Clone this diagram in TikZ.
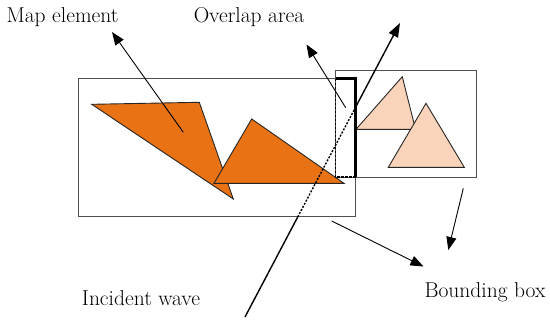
\documentclass[tikz,border=0pt]{standalone}
\usepackage{xcolor}
\usepackage{tikz}
\usetikzlibrary{arrows.meta}

\definecolor{elemorange}{RGB}{232,114,20}
\definecolor{elempeach}{RGB}{250,212,186}
\definecolor{boxgray}{RGB}{80,80,80}

\begin{document}
\begin{tikzpicture}[x=1pt, y=-1pt,
    every node/.style={font=\fontsize{21.5}{24}\selectfont, inner sep=0pt},
    bbox/.style={draw=boxgray, line width=0.9pt},
    elem/.style={draw=black!85, line width=0.9pt, line join=miter},
    pointer/.style={line width=0.9pt, -{Triangle[length=13pt, width=10pt]}}]
      \useasboundingbox (0,0) rectangle (550,327);
      % labels
      \node (lblmap) at (62.5,17) {Map element};
      \node (lbloverlap) at (249,17) {Overlap area};
      \node (lblwave) at (141,298) {Incident wave};
      \node (lblbbox) at (485,292) {Bounding box};
      % bounding boxes
      \draw[bbox] (78.5,78.5) rectangle (355.5,216.5);
      \draw[bbox] (335,70) rectangle (476,177);
      % map elements (left)
      \draw[elem, fill=elemorange] (91.7,104.3) -- (199.3,102.3) -- (233.3,199) -- cycle;
      \draw[elem, fill=elemorange] (251.7,119) -- (214,183.3) -- (344,183.3) -- cycle;
      % map elements (right)
      \draw[elem, fill=elempeach] (402.3,76.7) -- (356,129.3) -- (415.5,129.3) -- cycle;
      \draw[elem, fill=elempeach] (426,103.3) -- (388.3,167.3) -- (464.3,167.3) -- cycle;
      % overlap area
      \draw[line width=1.6pt, dash pattern=on 2.5pt off 1.5pt] (335.5,78.5) -- (335.5,177) -- (355.5,177);
      \draw[line width=2.2pt] (335.5,78.5) -- (355.5,78.5) -- (355.5,177);
      % incident wave
      \coordinate (wavestart) at (245,317);
      \coordinate (wavein) at (297.7,217);
      \coordinate (waveout) at (356,106.4);
      \coordinate (wavetip) at (400,23);
      \draw[line width=1.4pt] (wavestart) -- (wavein);
      \draw[line width=1.4pt, dash pattern=on 2pt off 1.5pt] (wavein) -- (waveout);
      \draw[line width=1.4pt, -{Triangle[length=14pt, width=10pt]}] (waveout) -- (wavetip);
      % pointers
      \coordinate (maptail) at (183.3,132.3);
      \coordinate (maptip) at (112,32);
      \draw[pointer] (maptail) -- (maptip);
      \coordinate (overlaptail) at (345.7,107.7);
      \coordinate (overlaptip) at (306.5,44.5);
      \draw[pointer] (overlaptail) -- (overlaptip);
      \coordinate (bboxtailA) at (331.7,221);
      \coordinate (bboxtipA) at (423.5,266.5);
      \draw[pointer] (bboxtailA) -- (bboxtipA);
      \coordinate (bboxtailB) at (463.3,188.3);
      \coordinate (bboxtipB) at (448.3,250);
      \draw[pointer] (bboxtailB) -- (bboxtipB);
    \end{tikzpicture}
\end{document}
